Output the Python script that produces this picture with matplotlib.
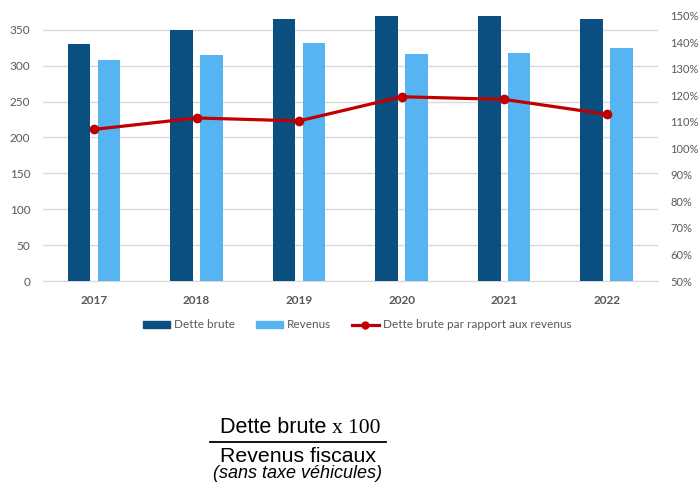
import matplotlib
matplotlib.use("Agg")
import matplotlib.pyplot as plt
import numpy as np
from matplotlib.patches import Patch
from matplotlib.lines import Line2D

years = ["2017", "2018", "2019", "2020", "2021", "2022"]
dette_brute = [330, 350, 365, 378, 377, 365]
revenus = [308, 315, 331, 317, 318, 325]
ratio = [1.071, 1.114, 1.103, 1.194, 1.184, 1.128]
left_ticks = [0, 50, 100, 150, 200, 250, 300, 350]
right_ticks = [0.5, 0.6, 0.7, 0.8, 0.9, 1.0, 1.1, 1.2, 1.3, 1.4, 1.5]

W, H = 700, 488
fig = plt.figure(figsize=(W / 100, H / 100), dpi=100)
plt.rcParams['font.family'] = ['Lato', 'DejaVu Sans']

def fx(px):
    return px / W

def fy(py):
    return 1 - py / H

ax = fig.add_axes([fx(42.7), fy(281), fx(658) - fx(42.7), fy(15.5) - fy(281)])
ax2 = ax.twinx()

dark = "#0B4F80"
light = "#56B4F2"
red = "#C00000"
grey_txt = "#595959"

x = np.arange(len(years))
bw = 0.221
off = 0.146
ax.bar(x - off, dette_brute, bw, color=dark, zorder=3)
ax.bar(x + off, revenus, bw, color=light, zorder=3)
ax.set_xlim(-0.5, len(years) - 0.5)
ax.set_ylim(0, 370)
ax.set_yticks(left_ticks)
ax.grid(axis='y', color="#D9D9D9", linewidth=1, zorder=0)
ax.set_axisbelow(True)
ax.set_xticks(x)
ax.set_xticklabels(years, fontweight='bold')
ax.tick_params(axis='both', length=0, colors=grey_txt, labelsize=8.5)
ax.tick_params(axis='y', pad=9)
ax.tick_params(axis='x', pad=10)
for s in ['top', 'right', 'left']:
    ax.spines[s].set_visible(False)
ax.spines['bottom'].set_color("#D9D9D9")

ax2.plot(x, ratio, color=red, linewidth=2.3, marker='o', markersize=6, zorder=5)
ax2.set_ylim(0.5, 1.5)
ax2.set_yticks(right_ticks)
ax2.set_yticklabels([f"{int(round(t*100))}%" for t in right_ticks])
ax2.tick_params(axis='y', length=0, colors=grey_txt, labelsize=8, pad=9)
for s in ['top', 'right', 'left', 'bottom']:
    ax2.spines[s].set_visible(False)

handles = [Patch(color=dark, label="Dette brute"),
           Patch(color=light, label="Revenus"),
           Line2D([0], [0], color=red, linewidth=2.3, marker='o', markersize=5,
                  label="Dette brute par rapport aux revenus")]
leg = fig.legend(handles=handles, loc='center', bbox_to_anchor=(fx(357), fy(325)),
                 ncol=3, frameon=False, fontsize=8.5, handlelength=2.3,
                 handleheight=0.5, handletextpad=0.3, columnspacing=1.8)
for t in leg.get_texts():
    t.set_color(grey_txt)

# Formula
fig.text(fx(326), fy(433), "Dette brute", ha='right', va='baseline',
         fontsize=15.5, family=['Liberation Sans'], color='black')
fig.text(fx(332), fy(433), "x 100", ha='left', va='baseline',
         fontsize=15.5, family=['Liberation Serif'], color='black')
fig.add_artist(Line2D([fx(210), fx(386)], [fy(441.5), fy(441.5)],
                      color='black', linewidth=1.3))
fig.text(fx(298.5), fy(462), "Revenus fiscaux", ha='center', va='baseline',
         fontsize=15.3, family=['Liberation Sans'], color='black')
fig.text(fx(297.5), fy(478), "(sans taxe véhicules)", ha='center', va='baseline',
         fontsize=13, family=['Liberation Sans'], style='italic', color='black')

fig.savefig("out.png", dpi=100)
